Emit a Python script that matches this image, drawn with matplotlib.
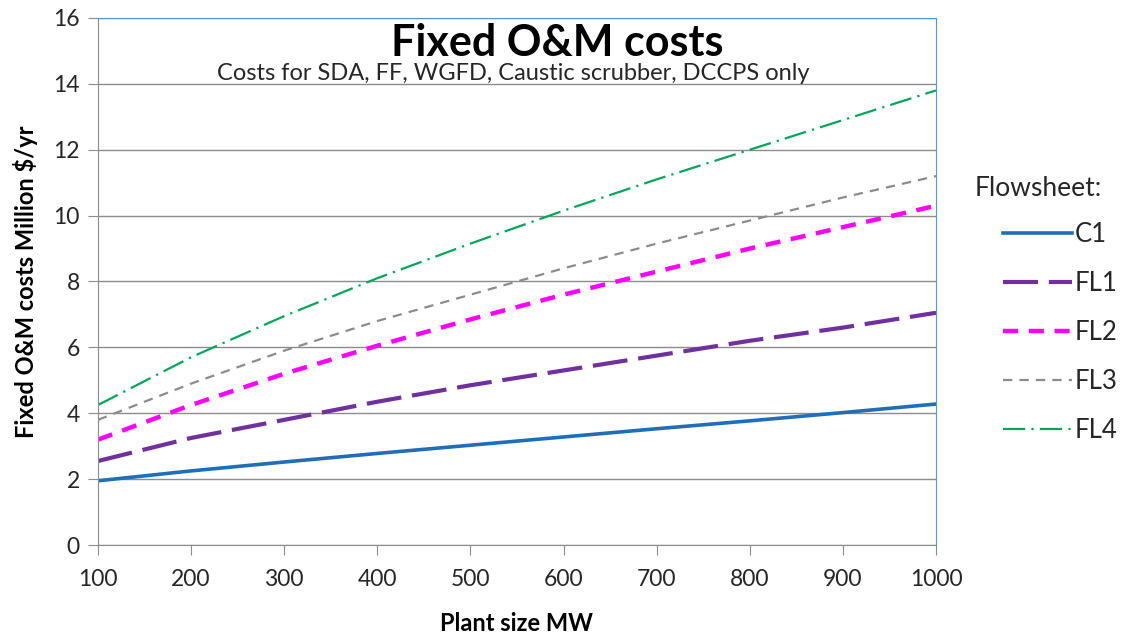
import numpy as np
import matplotlib
matplotlib.use("Agg")
from matplotlib import pyplot as plt

plt.rcParams['font.family'] = ['Lato', 'DejaVu Sans']

# plant size, MW
plant_size = [100, 200, 300, 400, 500, 600, 700, 800, 900, 1000]

# fixed O&M costs, million $/yr
c1 = [1.95, 2.25, 2.52, 2.78, 3.03, 3.28, 3.53, 3.77, 4.02, 4.28]
fl1 = [2.55, 3.25, 3.80, 4.35, 4.85, 5.30, 5.75, 6.20, 6.60, 7.05]
fl2 = [3.20, 4.25, 5.20, 6.05, 6.85, 7.60, 8.30, 9.00, 9.65, 10.30]
fl3 = [3.80, 4.90, 5.90, 6.80, 7.60, 8.40, 9.15, 9.85, 10.55, 11.20]
fl4 = [4.25, 5.70, 6.95, 8.10, 9.15, 10.15, 11.10, 12.00, 12.90, 13.80]

fig = plt.figure(figsize=(11.25, 6.35), dpi=100)
ax = fig.add_axes([0.0871, 0.1417, 0.7449, 0.83])

ax.plot(plant_size, c1, color='#1f6fb8', lw=2.6, label='C1')
ax.plot(plant_size, fl1, color='#7030a0', lw=3, dashes=(8.4, 2.6), label='FL1')
ax.plot(plant_size, fl2, color='#ff00ff', lw=3.2, dashes=(3.4, 2.4), label='FL2')
ax.plot(plant_size, fl3, color='#8c8c8c', lw=1.6, dashes=(4.2, 3.2), label='FL3')
ax.plot(plant_size, fl4, color='#00a65a', lw=1.6, dashes=(10, 2.8, 1, 2.8), label='FL4')

ax.set_xlim(100, 1000)
ax.set_ylim(0, 16)
ax.set_xticks(range(100, 1001, 100))
ax.set_yticks(range(0, 17, 2))
ax.grid(axis='y', color='#8c8c8c', lw=1)
ax.set_axisbelow(True)
ax.tick_params(direction='out', length=7, color='#8c8c8c', labelsize=16.5, labelcolor='#262626')
ax.tick_params(axis='x', pad=10)
ax.tick_params(axis='y', pad=6)

for s in ['left', 'bottom']:
    ax.spines[s].set_color('#8c8c8c')
for s in ['top', 'right']:
    ax.spines[s].set_color('#4a9ad4')

ax.set_xlabel('Plant size MW', fontsize=17, fontweight='bold', labelpad=16)
ax.set_ylabel('Fixed O&M costs Million $/yr', fontsize=17, fontweight='bold', labelpad=11)

ax.text(0.548, 0.952, 'Fixed O&M costs', transform=ax.transAxes, ha='center', va='center',
        fontsize=31, fontweight='bold')
ax.text(0.495, 0.894, 'Costs for SDA, FF, WGFD, Caustic scrubber, DCCPS only',
        transform=ax.transAxes, ha='center', va='center', fontsize=17, color='#262626')

# legend title drawn on its own so the entries can be indented as in the original
fig.text(975 / 1125, 1 - 188 / 635, 'Flowsheet:', ha='left', va='center',
         fontsize=19, color='#262626')
leg = fig.legend(loc='upper left', bbox_to_anchor=(1003 / 1125, 1 - 222 / 635), frameon=False,
                 fontsize=18.5, handlelength=2.7, handletextpad=0.1, labelspacing=0.93,
                 borderaxespad=0, borderpad=0)
for t in leg.get_texts():
    t.set_color('#262626')

fig.savefig('out.png', dpi=100)
